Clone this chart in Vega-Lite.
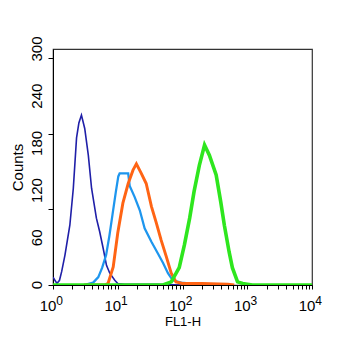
{
  "$schema": "https://vega.github.io/schema/vega-lite/v6.json",
  "width": 259,
  "height": 236,
  "autosize": {"type": "none"},
  "padding": {"left": 53, "top": 49, "right": 37, "bottom": 70},
  "background": "white",
  "config": {
    "view": {"stroke": "#333333", "strokeWidth": 1.2},
    "font": "Liberation Sans",
    "axis": {"grid": false, "domainColor": "#000000", "tickColor": "#000000", "labelColor": "#000000", "titleColor": "#000000", "titleFontWeight": "normal"}
  },
  "datasets": {
    "hist": [
      {"s":"A","x":1,"y":10},{"s":"A","x":1.07,"y":6},{"s":"A","x":1.15,"y":2},{"s":"A","x":1.26,"y":6},
      {"s":"A","x":1.36,"y":17},{"s":"A","x":1.53,"y":38},{"s":"A","x":1.82,"y":76},{"s":"A","x":2.06,"y":123},
      {"s":"A","x":2.31,"y":187},{"s":"A","x":2.51,"y":206},{"s":"A","x":2.75,"y":216},{"s":"A","x":3.09,"y":199},
      {"s":"A","x":3.51,"y":165},{"s":"A","x":3.94,"y":123},{"s":"A","x":4.68,"y":85},{"s":"A","x":5.25,"y":68},
      {"s":"A","x":5.94,"y":47},{"s":"A","x":6.7,"y":25},{"s":"A","x":7.53,"y":15},{"s":"A","x":9.0,"y":6},
      {"s":"A","x":10,"y":2},{"s":"A","x":12.6,"y":1},{"s":"A","x":20,"y":1},{"s":"A","x":40,"y":1},{"s":"A","x":100,"y":0},

      {"s":"B","x":3.0,"y":0},{"s":"B","x":4.17,"y":3},{"s":"B","x":5.01,"y":10},{"s":"B","x":5.75,"y":22},
      {"s":"B","x":6.61,"y":38},{"s":"B","x":7.41,"y":62},{"s":"B","x":8.32,"y":90},{"s":"B","x":9.33,"y":118},
      {"s":"B","x":10.2,"y":138},{"s":"B","x":10.7,"y":142},{"s":"B","x":14.5,"y":142},{"s":"B","x":15.3,"y":126},
      {"s":"B","x":18.2,"y":112},{"s":"B","x":21.9,"y":95},{"s":"B","x":26.0,"y":72},{"s":"B","x":33.1,"y":55},
      {"s":"B","x":41.7,"y":40},{"s":"B","x":50.1,"y":28},{"s":"B","x":59.6,"y":15},{"s":"B","x":70.8,"y":6},
      {"s":"B","x":95.5,"y":3},{"s":"B","x":126,"y":2},{"s":"B","x":200,"y":1},{"s":"B","x":300,"y":0},

      {"s":"C","x":3.0,"y":0},{"s":"C","x":6.31,"y":0},{"s":"C","x":7.08,"y":2},{"s":"C","x":8.51,"y":23},
      {"s":"C","x":10,"y":66},{"s":"C","x":12.0,"y":104},{"s":"C","x":14.5,"y":129},{"s":"C","x":17.2,"y":146},
      {"s":"C","x":19.4,"y":154},{"s":"C","x":23.1,"y":142},{"s":"C","x":27.5,"y":129},{"s":"C","x":33.1,"y":100},
      {"s":"C","x":39.4,"y":79},{"s":"C","x":46.8,"y":57},{"s":"C","x":56.2,"y":36},{"s":"C","x":67.0,"y":15},
      {"s":"C","x":79.4,"y":4},{"s":"C","x":100,"y":2},{"s":"C","x":200,"y":2},{"s":"C","x":500,"y":1},{"s":"C","x":630,"y":0},

      {"s":"D","x":1,"y":0},{"s":"D","x":50,"y":0},{"s":"D","x":67,"y":4},{"s":"D","x":89,"y":22},
      {"s":"D","x":107,"y":51},{"s":"D","x":129,"y":85},{"s":"D","x":151,"y":119},{"s":"D","x":182,"y":152},
      {"s":"D","x":219,"y":178},{"s":"D","x":260,"y":165},{"s":"D","x":331,"y":140},{"s":"D","x":389,"y":106},
      {"s":"D","x":443,"y":76},{"s":"D","x":525,"y":42},{"s":"D","x":589,"y":22},{"s":"D","x":708,"y":4},
      {"s":"D","x":851,"y":2},{"s":"D","x":1000,"y":1},{"s":"D","x":1200,"y":0},{"s":"D","x":10000,"y":0}
    ],
    "dec": [
      {"v":1,"e":"0"},{"v":10,"e":"1"},{"v":100,"e":"2"},{"v":1000,"e":"3"},{"v":10000,"e":"4"}
    ],
    "ylab": [
      {"v":0},{"v":60},{"v":120},{"v":180},{"v":240},{"v":300}
    ]
  },
  "layer": [
    {
      "data": {"name": "hist"},
      "mark": {"type": "line", "interpolate": "linear", "clip": true, "strokeJoin": "miter"},
      "encoding": {
        "x": {
          "field": "x", "type": "quantitative",
          "scale": {"type": "log", "domain": [1, 10000], "nice": false},
          "axis": {
            "title": "FL1-H", "titleFontSize": 13, "titlePadding": 26,
            "labels": false, "tickSize": 4,
            "values": [1,2,3,4,5,6,7,8,9,10,20,30,40,50,60,70,80,90,100,200,300,400,500,600,700,800,900,1000,2000,3000,4000,5000,6000,7000,8000,9000,10000]
          }
        },
        "y": {
          "field": "y", "type": "quantitative",
          "scale": {"domain": [0, 300], "nice": false},
          "axis": {
            "title": "Counts", "titleFontSize": 15, "titlePadding": 22,
            "values": [0,12,24,36,48,60,72,84,96,108,120,132,144,156,168,180,192,204,216,228,240,252,264,276,288,300],
            "labels": false, "tickSize": 5
          }
        },
        "color": {
          "field": "s", "type": "nominal",
          "scale": {"domain": ["A","B","C","D"], "range": ["#1f1fa8","#1e96ee","#ff6414","#2ee61e"]},
          "legend": null
        },
        "strokeWidth": {
          "field": "s", "type": "nominal",
          "scale": {"domain": ["A","B","C","D"], "range": [1.6, 3.6, 3.4, 3]},
          "legend": null
        }
      }
    },
    {
      "data": {"name": "dec"},
      "mark": {"type": "text", "text": "10", "fontSize": 15, "baseline": "alphabetic", "align": "center", "dx": -5, "dy": 26, "color": "#000000"},
      "encoding": {
        "x": {"field": "v", "type": "quantitative"},
        "y": {"datum": 0}
      }
    },
    {
      "data": {"name": "dec"},
      "mark": {"type": "text", "fontSize": 12, "baseline": "alphabetic", "align": "center", "dx": 6.5, "dy": 20, "color": "#000000"},
      "encoding": {
        "x": {"field": "v", "type": "quantitative"},
        "y": {"datum": 0},
        "text": {"field": "e"}
      }
    },
    {
      "data": {"name": "ylab"},
      "mark": {"type": "text", "fontSize": 15, "angle": -90, "baseline": "alphabetic", "align": "center", "dy": -11, "color": "#000000"},
      "encoding": {
        "x": {"datum": 1},
        "y": {"field": "v", "type": "quantitative"},
        "text": {"field": "v", "type": "quantitative"}
      }
    }
  ]
}
